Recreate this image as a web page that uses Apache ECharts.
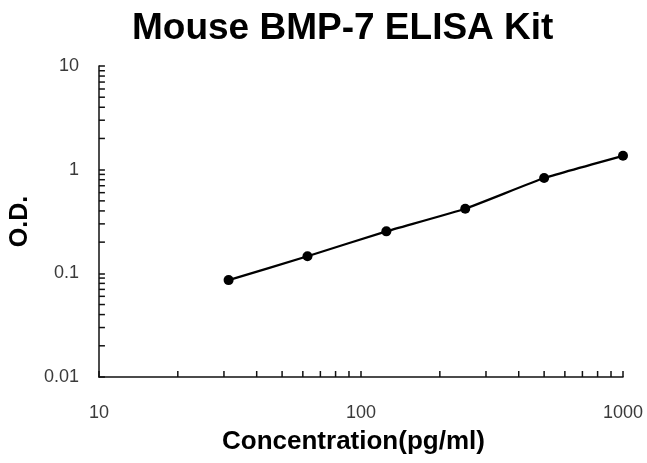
<!DOCTYPE html>
<html>
<head>
<meta charset="utf-8">
<script src="https://cdn.jsdelivr.net/npm/echarts@6/dist/echarts.min.js"></script>
<style>
  html, body { margin: 0; padding: 0; background: #fff; }
  #main { width: 647px; height: 463px; }
</style>
</head>
<body>
<div id="main"></div>
<script>
// standard curve points
var concentrations = [31.25, 62.5, 125, 250, 500, 1000];
var odValues = [0.086, 0.146, 0.254, 0.42, 0.83, 1.36];

// minor tick values (log axes, 2..9 per decade)
var xMinorTicks = [20, 30, 40, 50, 60, 70, 80, 90, 200, 300, 400, 500, 600, 700, 800, 900];
var yMinorTicks = [0.02, 0.03, 0.04, 0.05, 0.06, 0.07, 0.08, 0.09,
  0.2, 0.3, 0.4, 0.5, 0.6, 0.7, 0.8, 0.9,
  2, 3, 4, 5, 6, 7, 8, 9];

var xRange = [10, 1000];
var yRange = [0.01, 10];

var curve = concentrations.map(function (c, i) { return [c, odValues[i]]; });

var labelFont = 'Liberation Sans, Arial, sans-serif';

function plainNumber(v) {
  return String(+Number(v).toPrecision(6));
}

function minorTick(horizontal) {
  return function (params, api) {
    var p = api.coord([api.value(0), api.value(1)]);
    var len = 6;
    return {
      type: 'line',
      shape: horizontal
        ? { x1: p[0], y1: p[1], x2: p[0], y2: p[1] - len }
        : { x1: p[0], y1: p[1], x2: p[0] + len, y2: p[1] },
      style: { stroke: '#111', lineWidth: 1.5 }
    };
  };
}

var chart = echarts.init(document.getElementById('main'));
chart.setOption({
  animation: false,
  backgroundColor: '#fff',
  title: {
    text: 'Mouse BMP-7 ELISA Kit',
    left: 127,
    top: 5,
    textStyle: {
      fontFamily: labelFont,
      fontSize: 37,
      fontWeight: 'bold',
      color: '#000'
    }
  },
  grid: {
    left: 98,
    right: 24,
    top: 66,
    bottom: 86
  },
  xAxis: {
    type: 'log',
    logBase: 10,
    min: xRange[0],
    max: xRange[1],
    name: 'Concentration(pg/ml)',
    nameLocation: 'middle',
    nameGap: 52,
    nameTextStyle: {
      fontFamily: labelFont,
      fontSize: 26,
      fontWeight: 'bold',
      color: '#000',
      padding: [0, 15, 0, 0]
    },
    axisLine: { lineStyle: { color: '#111', width: 1.5 } },
    axisTick: { inside: true, length: 6, lineStyle: { color: '#111', width: 1.5 } },
    axisLabel: {
      margin: 27,
      fontFamily: labelFont,
      fontSize: 18,
      color: '#3a3a3a',
      formatter: plainNumber
    },
    splitLine: { show: false }
  },
  yAxis: {
    type: 'log',
    logBase: 10,
    min: yRange[0],
    max: yRange[1],
    name: 'O.D.',
    nameLocation: 'middle',
    nameGap: 64,
    nameTextStyle: {
      fontFamily: labelFont,
      fontSize: 25,
      fontWeight: 'bold',
      color: '#000'
    },
    axisLine: { show: true, lineStyle: { color: '#111', width: 1.5 } },
    axisTick: { show: true, inside: true, length: 6, lineStyle: { color: '#111', width: 1.5 } },
    axisLabel: {
      margin: 20,
      fontFamily: labelFont,
      fontSize: 18,
      color: '#3a3a3a',
      formatter: plainNumber
    },
    splitLine: { show: false }
  },
  series: [
    {
      type: 'line',
      data: curve,
      smooth: 0.12,
      symbol: 'circle',
      symbolSize: 10,
      lineStyle: { color: '#000', width: 2.2 },
      itemStyle: { color: '#000' }
    },
    {
      type: 'custom',
      silent: true,
      clip: false,
      renderItem: minorTick(true),
      data: xMinorTicks.map(function (v) { return [v, yRange[0]]; })
    },
    {
      type: 'custom',
      silent: true,
      clip: false,
      renderItem: minorTick(false),
      data: yMinorTicks.map(function (v) { return [xRange[0], v]; })
    }
  ]
});
</script>
</body>
</html>
